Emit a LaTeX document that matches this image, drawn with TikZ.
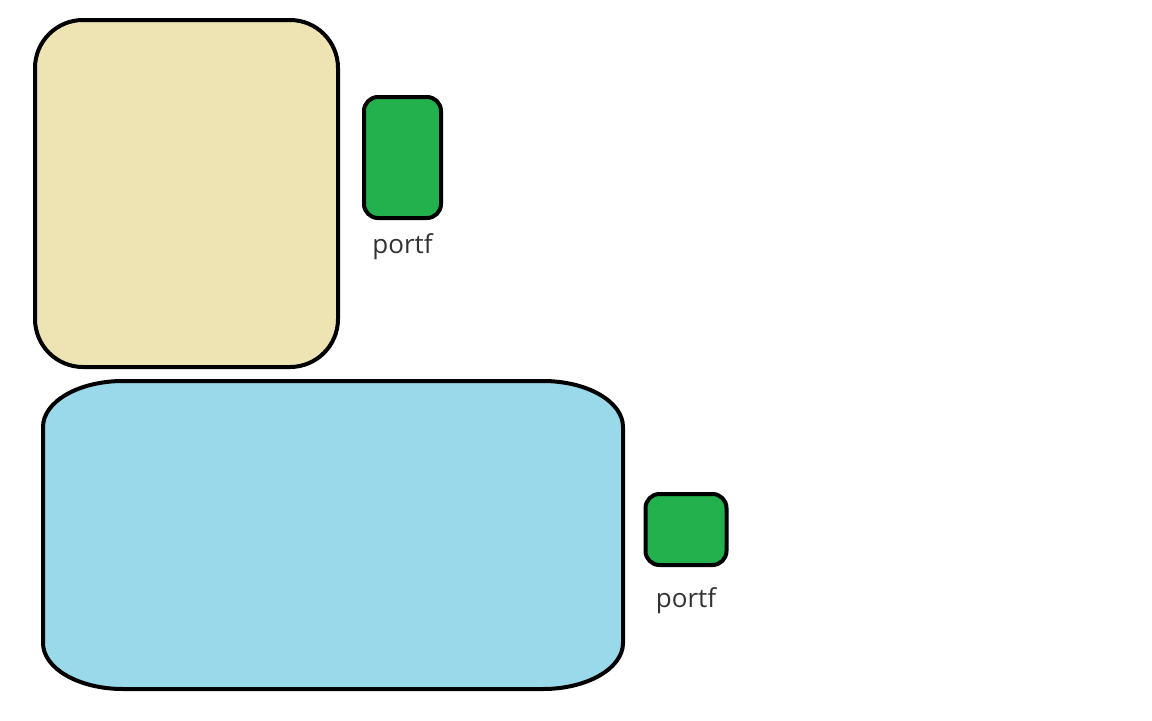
\documentclass[tikz,border=0pt]{standalone}
\usepackage{fontspec}
\setmainfont{Open Sans}
\usepackage{xcolor}
\usepackage{tikz}
\usetikzlibrary{positioning}
\definecolor{boxbeige}{HTML}{EEE3B2}
\definecolor{boxblue}{HTML}{99D9EA}
\definecolor{portgreen}{HTML}{22B14C}
\definecolor{labelgray}{HTML}{333333}

\begin{document}
\begin{tikzpicture}[x=0.5pt, y=0.5pt,
    panel/.style={draw=black, line width=2pt, fill=#1},
    port/.style={rectangle, draw=black, line width=2pt, fill=portgreen,
                 rounded corners=7pt, inner sep=0pt, outer sep=0pt},
    portlabel/.style={font=\fontsize{13}{15}\selectfont, text=labelgray,
                      inner sep=0pt, outer sep=0pt}
]
\useasboundingbox (0,0) rectangle (1152,720);

% top container
\node[panel=boxbeige, rectangle, rounded corners=24pt, inner sep=0pt,
      minimum width=151.5pt, minimum height=173.5pt] (top) at (186.5,526.5) {};
\node[port, minimum width=38.5pt, minimum height=60.5pt] (topport) at (402.5,562.5) {};
\node[portlabel, below=8pt of topport] (toplabel) {portf};

% bottom container
\draw[panel=boxblue] (123,339) -- (543,339)
    arc[start angle=90, end angle=0, x radius=40pt, y radius=23pt] -- (623,77)
    arc[start angle=0, end angle=-90, x radius=40pt, y radius=23pt] -- (123,31)
    arc[start angle=270, end angle=180, x radius=40pt, y radius=23pt] -- (43,293)
    arc[start angle=180, end angle=90, x radius=40pt, y radius=23pt] -- cycle;
\node[port, minimum width=40.5pt, minimum height=35.5pt] (bottomport) at (686,190.5) {};
\node[portlabel, below=11.5pt of bottomport] (bottomlabel) {portf};
\end{tikzpicture}
\end{document}
